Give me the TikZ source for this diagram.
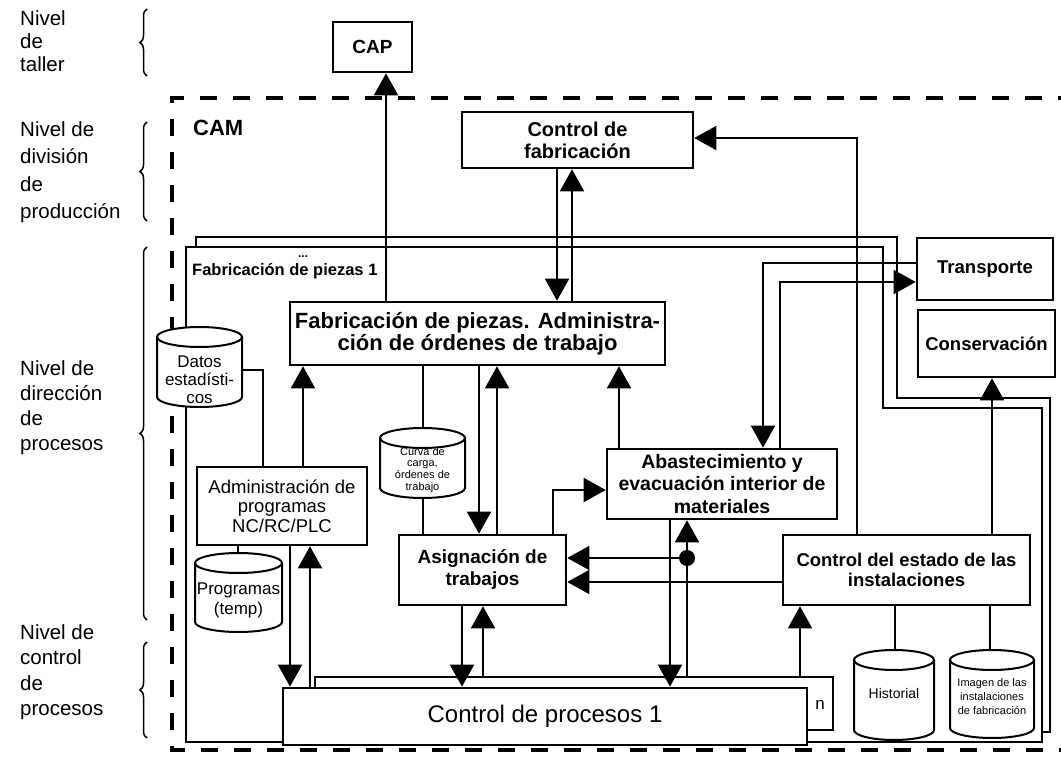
\documentclass[tikz,border=0pt]{standalone}
\usepackage{fontspec}
\setmainfont{Liberation Sans}
\usetikzlibrary{arrows.meta,decorations.pathreplacing}

\tikzset{
  box/.style={draw, line width=2.6pt, fill=white, inner sep=2pt, align=center},
  conn/.style={line width=1.8pt},
  arr/.style={conn, -{Triangle[length=22pt,width=24pt]}},
  frm/.style={draw, line width=2.8pt, fill=white, line join=miter},
  bound/.style={line width=3.5pt, dash pattern=on 17pt off 16pt},
  lvl/.style={anchor=north west, inner sep=0, align=left},
  brc/.style={decorate, decoration={brace, amplitude=7pt}, line width=1.5pt},
  cyl/.style={draw, line width=2pt, fill=white},
  ctext/.style={inner sep=0, align=center},
}

% database cylinder: name, left, right, top, bottom
\newcommand\dbcyl[5]{%
  \pgfmathsetmacro\cyA{(#3-#2)/2}%
  \pgfmathsetmacro\cyC{(#2+#3)/2}%
  \pgfmathsetmacro\cyM{(#4+#5)/2}%
  \pgfmathsetmacro\cyT{#4+10}%
  \pgfmathsetmacro\cyB{#5-10}%
  \pgfmathsetmacro\cyW{#3-#2}%
  \pgfmathsetmacro\cyH{#5-#4}%
  \filldraw[cyl] (#2,\cyT) -- (#2,\cyB)
     arc[start angle=180, end angle=360, x radius=\cyA pt, y radius=10pt]
     -- (#3,\cyT)
     arc[start angle=0, end angle=180, x radius=\cyA pt, y radius=10pt] -- cycle;
  \draw[cyl, fill=none] (#2,\cyT) arc[start angle=180, end angle=360, x radius=\cyA pt, y radius=10pt];
  \node[inner sep=0, minimum width=\cyW pt, minimum height=\cyH pt] (#1) at (\cyC,\cyM) {};
}

\begin{document}
\begin{tikzpicture}[x=1pt, y=-1pt]
\useasboundingbox (0,0) rectangle (1061,759);
\clip (0,0) rectangle (1061,759);
\fill[white] (0,0) rectangle (1061,759);

% level labels and braces
\node[lvl, font=\fontsize{20.5}{23}\selectfont] (l1) at (20,10) {Nivel\\de\\taller};
\node[lvl, font=\fontsize{20.5}{27.5}\selectfont] (l2) at (20,121) {Nivel de\\división\\de\\producción};
\node[lvl, font=\fontsize{20.5}{25}\selectfont] (l3) at (20,360) {Nivel de\\dirección\\de\\procesos};
\node[lvl, font=\fontsize{20.5}{25.5}\selectfont] (l4) at (20,624) {Nivel de\\control\\de\\procesos};
\draw[brc] (147,76) -- (147,9);
\draw[brc] (147,221) -- (147,122);
\draw[brc] (147,620) -- (147,247);
\draw[brc] (147,738) -- (147,642);

% CAM boundary
\draw[bound] (1075,98) -- (172,98) -- (172,750) -- (1075,750);
\node[anchor=west, inner sep=0, font=\bfseries\fontsize{22}{24}\selectfont] (cam) at (193,128) {CAM};

% stacked frames: parts manufacturing 1..n
\path[frm] (196,237) -- (897,237) -- (897,398) -- (1050,398) -- (1050,732) -- (196,732) -- cycle;
\path[frm] (186,247) -- (883,247) -- (883,408) -- (1042,408) -- (1042,742) -- (186,742) -- cycle;
\node[anchor=west, inner sep=0, font=\bfseries\fontsize{16.5}{18}\selectfont] (fr1) at (192,271) {Fabricación de piezas 1};
\node[inner sep=0, font=\bfseries\fontsize{12}{12}\selectfont] (dots) at (303,257) {...};

% boxes
\node[box, minimum width=79pt, minimum height=50pt, font=\bfseries\fontsize{19}{21}\selectfont] (cap) at (372.5,47) {CAP};
\node[box, minimum width=231pt, minimum height=56pt, font=\bfseries\fontsize{20}{22}\selectfont] (cdf) at (577.5,140) {Control de\\fabricación};
\node[box, minimum width=375pt, minimum height=63pt, font=\bfseries\fontsize{22}{22}\selectfont] (fdp) at (477.5,333.5) {Fabricación de piezas. Administra-\\ción de órdenes de trabajo};
\node[box, minimum width=136pt, minimum height=62pt, font=\bfseries\fontsize{18.5}{20}\selectfont] (tra) at (985,269) {Transporte};
\node[box, minimum width=137pt, minimum height=67pt, font=\bfseries\fontsize{18.5}{20}\selectfont] (con) at (986.5,343.5) {Conservación};
\node[box, minimum width=230pt, minimum height=70pt, font=\bfseries\fontsize{19.5}{22.5}\selectfont] (abs) at (722,484) {Abastecimiento y\\evacuación interior de\\materiales};
\node[box, minimum width=170pt, minimum height=78pt, font=\fontsize{18.5}{19.5}\selectfont] (adm) at (282,506) {Administración de\\programas\\NC/RC/PLC};
\node[box, minimum width=167pt, minimum height=70pt, font=\bfseries\fontsize{19}{22}\selectfont] (asg) at (482.5,570) {Asignación de\\trabajos};
\node[box, minimum width=247pt, minimum height=70pt, font=\bfseries\fontsize{18.5}{20}\selectfont] (cde) at (906.5,570) {Control del estado de las\\instalaciones};
\node[box, minimum width=518pt, minimum height=53pt] (cpb) at (574,703.5) {};
\node[inner sep=0, font=\fontsize{17}{18}\selectfont] (cpn) at (820,705) {n};
\node[box, minimum width=524pt, minimum height=57pt, font=\fontsize{24}{26}\selectfont] (cp) at (545,716.5) {Control de procesos 1};

% data stores
\dbcyl{dat}{157}{242}{327}{407}
\node[ctext, font=\fontsize{17}{18}\selectfont] (datT) at (199.5,380) {Datos\\estadísti-\\cos};
\dbcyl{prg}{195}{282}{553}{632}
\node[ctext, font=\fontsize{17}{20}\selectfont] (prgT) at (238.5,600) {Programas\\(temp)};
\dbcyl{cur}{380}{465}{428}{498}
\node[ctext, font=\fontsize{11}{11.7}\selectfont] (curT) at (422.5,470) {Curva de\\carga,\\órdenes de\\trabajo};
\dbcyl{his}{854}{934}{650}{740}
\node[ctext, font=\fontsize{14}{16}\selectfont] (hisT) at (894,693) {Historial};
\dbcyl{img}{950}{1034}{650}{738}
\node[ctext, font=\fontsize{11}{14}\selectfont] (imgT) at (992,697) {Imagen de las\\instalaciones\\de fabricación};

% connectors
\draw[arr] (386,0 |- fdp.north) -- (386,0 |- cap.south);
\draw[arr] (557,0 |- cdf.south) -- (557,0 |- fdp.north);
\draw[arr] (572,0 |- fdp.north) -- (572,0 |- cdf.south);
\draw[arr] (857,0 |- cde.north) |- (cdf.east |- 0,138);
\draw[arr] (tra.west |- 0,263) -| (763,0 |- abs.north);
\draw[arr] (780,0 |- abs.north) |- (tra.west |- 0,282);
\draw[arr] (992,0 |- cde.north) -- (992,0 |- con.south);
\draw[arr] (619,0 |- abs.north) -- (619,0 |- fdp.south);
\draw[arr] (303,0 |- adm.north) -- (303,0 |- fdp.south);
\draw[conn] (423,0 |- fdp.south) -- (423,0 |- cur.north);
\draw[arr] (479,0 |- fdp.south) -- (479,0 |- asg.north);
\draw[arr] (497,0 |- asg.north) -- (497,0 |- fdp.south);
\draw[conn] (423,0 |- cur.south) -- (423,0 |- asg.north);
\draw[conn] (dat.east |- 0,370) -| (263,0 |- adm.north);
\draw[conn] (238,0 |- adm.south) -- (238,0 |- prg.north);
\draw[arr] (290,0 |- adm.south) -- (290,0 |- cp.north);
\draw[arr] (310,0 |- cp.north) -- (310,0 |- adm.south);
\draw[arr] (462,0 |- asg.south) -- (462,0 |- cp.north);
\draw[arr] (483,0 |- cpb.north) -- (483,0 |- asg.south);
\draw[arr] (553,0 |- asg.north) |- (abs.west |- 0,490);
\draw[arr] (670,0 |- abs.south) -- (670,0 |- cp.north);
\draw[arr] (687,0 |- cpb.north) -- (687,0 |- abs.south);
\node[circle, fill, inner sep=0, minimum size=16pt] (jn) at (687,558) {};
\draw[arr] (jn.center) -- (asg.east |- jn.center);
\draw[arr] (cde.west |- 0,582) -- (asg.east |- 0,582);
\draw[arr] (800,0 |- cpb.north) -- (800,0 |- cde.south);
\draw[conn] (895,0 |- cde.south) -- (895,0 |- his.north);
\draw[conn] (990,0 |- cde.south) -- (990,0 |- img.north);
\end{tikzpicture}
\end{document}
